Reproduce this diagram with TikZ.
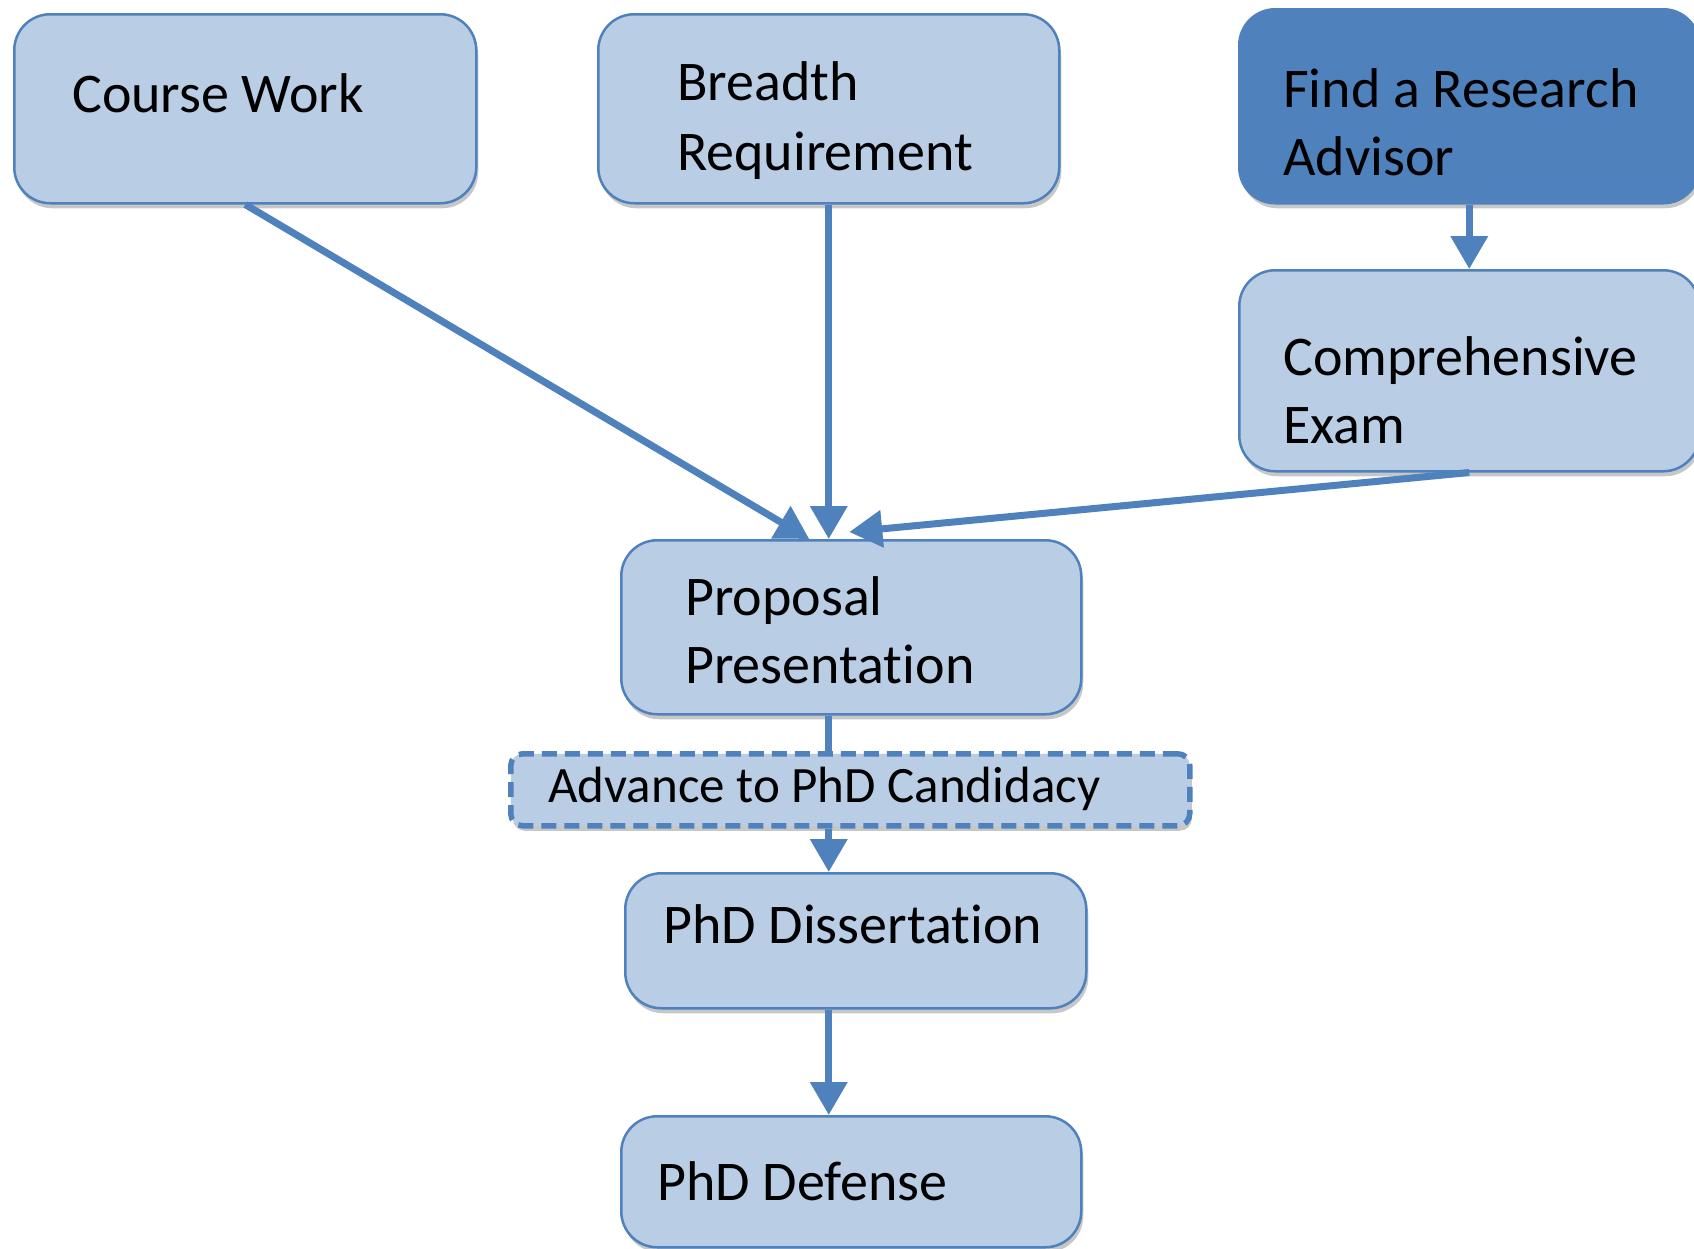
\documentclass[tikz,border=0pt]{standalone}
\usepackage{fontspec}
\setmainfont{Carlito}[Ligatures={NoCommon,NoContextual,NoRequired},Contextuals=NoAlternate]
\usetikzlibrary{arrows.meta,shadows,calc}
\definecolor{lightb}{HTML}{B9CDE5}
\definecolor{bord}{HTML}{4F81BD}
\newcommand{\nolig}{\kern0pt}
\begin{document}
\begin{tikzpicture}[x=1pt,y=-1pt,
  box/.style={draw=bord, fill=lightb, line width=2.5pt, rounded corners=36pt,
    anchor=north west, inner sep=0pt,
    drop shadow={shadow xshift=2pt, shadow yshift=-5pt, opacity=0.22, fill=black}},
  darkbox/.style={box, fill=bord},
  candbox/.style={box, rounded corners=12pt, line width=5.5pt, dash pattern=on 15pt off 8pt},
  txt/.style={font=\fontsize{56}{68}\selectfont, anchor=base west, inner sep=0pt},
  smalltxt/.style={font=\fontsize{51}{62}\selectfont, anchor=base west, inner sep=0pt},
  arr/.style={draw=bord, line width=7pt, -{Triangle[width=36pt,length=33pt]}},
  plain/.style={draw=bord, line width=7pt}]
\clip (0,0) rectangle (1694,1248);
\fill[white] (0,0) rectangle (1694,1248);

\node[box, minimum width=462pt, minimum height=189pt] (cw) at (13,13) {};
\node[box, minimum width=461pt, minimum height=189pt] (br) at (597,13) {};
\node[darkbox, minimum width=460pt, minimum height=194pt] (fa) at (1238,8) {};
\node[box, minimum width=460pt, minimum height=201pt] (ce) at (1238,269) {};
\node[box, minimum width=460pt, minimum height=174pt] (pp) at (620,539) {};
\node[candbox, minimum width=679pt, minimum height=72pt] (ad) at (508,751) {};
\node[box, minimum width=461pt, minimum height=135pt] (di) at (624,872) {};
\node[box, minimum width=460pt, minimum height=131pt] (de) at (620,1115) {};

\node[txt] (cwt) at (72,112) {Course Work};
\node[txt] (brt1) at (677,100) {Breadth};
\node[txt] (brt2) at (677,170) {Requirement};
\node[txt] (fat1) at (1283,107) {Find a Research};
\node[txt] (fat2) at (1283,175) {Advisor};
\node[txt] (cet1) at (1283,375) {Comprehensive};
\node[txt] (cet2) at (1283,443) {Exam};
\node[txt] (ppt1) at (685,615) {Proposal};
\node[txt] (ppt2) at (685,683) {Presentat\nolig ion};
\node[smalltxt] (adt) at (548,802) {Advance to PhD Candidacy};
\node[txt] (dit) at (663,943) {PhD Dissertat\nolig ion};
\node[txt] (det) at (657,1200) {PhD Defense};

\draw[arr] (cw.south) -- ($(pp.north)+(-42,0)$);
\draw[arr] (br.south) -- (br.south |- pp.north);
\draw[arr] (ce.south) -- ($(pp.north)+(-2,-7)$);
\draw[arr] (fa.south) -- (ce.north);
\draw[plain] (br.south |- pp.south) -- (br.south |- ad.north);
\draw[arr] (br.south |- ad.south) -- (br.south |- di.north);
\draw[arr] (br.south |- di.south) -- (br.south |- de.north);
\end{tikzpicture}
\end{document}
